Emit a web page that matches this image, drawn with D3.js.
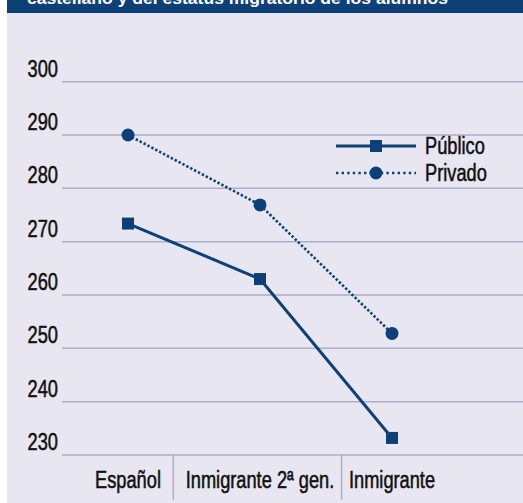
<!DOCTYPE html>
<html><head><meta charset="utf-8">
<script src="https://cdn.jsdelivr.net/npm/d3@7"></script>
<style>
html,body{margin:0;padding:0;background:#fff;}
svg{display:block;}
</style></head>
<body>
<svg id="c" width="523" height="503"></svg>
<script>
const categories = ["Español", "Inmigrante 2ª gen.", "Inmigrante"];
const publico = [273.4, 263.0, 233.2];
const privado = [290.0, 276.9, 252.8];
const yTicks = [230, 240, 250, 260, 270, 280, 290, 300];
const seriesNames = ["Público", "Privado"];
const titleText = "castellano y del estatus migratorio de los alumnos";

const W = 523, H = 503;
const navy = "#0c4077";
const bg = "#e8e7f1";
const grid = "#abadc9";
const font = "'Liberation Sans',Arial,sans-serif";
const FS = 24, SX = 0.76;

const svg = d3.select("#c");
svg.append("rect").attr("x", 7).attr("y", 0).attr("width", W - 7).attr("height", H).attr("fill", bg);
svg.append("rect").attr("x", 7).attr("y", 0).attr("width", W - 7).attr("height", 13).attr("fill", navy);
svg.append("text").attr("x", 27).attr("y", 3.5).attr("fill", "#fff")
  .attr("font-family", "'Liberation Sans',Arial,sans-serif").attr("font-weight", "bold")
  .attr("font-size", 16).attr("textLength", 421).attr("lengthAdjust", "spacingAndGlyphs")
  .text(titleText);

function narrow(sel, fx, fy) {
  return sel.attr("transform", (d, i) => `translate(${fx(d, i)},${fy(d, i)}) scale(${SX},1)`)
    .attr("font-family", font).attr("font-size", FS).attr("fill", "#111")
    .attr("stroke", "#111").attr("stroke-width", 0.55);
}

const x = d3.scalePoint().domain(categories).range([62, 458]).padding(0.5);
const y = d3.scaleLinear().domain([230, 300]).range([455, 81.7]);

// gridlines
svg.append("g").selectAll("line").data(yTicks).join("line")
  .attr("x1", 62).attr("x2", W).attr("y1", d => y(d)).attr("y2", d => y(d))
  .attr("stroke", grid).attr("stroke-width", 1.5);

// y tick labels
narrow(svg.append("g").selectAll("text").data(yTicks).join("text"), () => 58, d => y(d) - 5)
  .attr("text-anchor", "end").text(d => d);

// x labels
const xl = narrow(svg.append("g").selectAll("text").data(categories).join("text"), d => x(d), () => 488)
  .attr("text-anchor", "middle").text(d => d);
const boxes = xl.nodes().map(n => n.getBoundingClientRect());
const svgBox = svg.node().getBoundingClientRect();
const seps = [];
for (let i = 0; i < boxes.length - 1; i++) {
  seps.push((boxes[i].right + boxes[i + 1].left) / 2 - svgBox.left);
}
svg.append("g").selectAll("line").data(seps).join("line")
  .attr("x1", d => d).attr("x2", d => d).attr("y1", y(230)).attr("y2", 500)
  .attr("stroke", grid).attr("stroke-width", 1.5);

// lines
const line = d3.line().x((d, i) => x(categories[i])).y(d => y(d));
svg.append("path").attr("d", line(publico)).attr("fill", "none")
  .attr("stroke", navy).attr("stroke-width", 3);
svg.append("path").attr("d", line(privado)).attr("fill", "none")
  .attr("stroke", navy).attr("stroke-width", 2.6).attr("stroke-dasharray", "2.4,2");

svg.append("g").selectAll("rect").data(publico).join("rect")
  .attr("x", (d, i) => x(categories[i]) - 6).attr("y", d => y(d) - 6)
  .attr("width", 12).attr("height", 12).attr("fill", navy);
svg.append("g").selectAll("circle").data(privado).join("circle")
  .attr("cx", (d, i) => x(categories[i])).attr("cy", d => y(d)).attr("r", 6.5).attr("fill", navy);

// legend
const lg = svg.append("g");
const ly = [146, 173];
lg.append("line").attr("x1", 336).attr("x2", 416).attr("y1", ly[0]).attr("y2", ly[0])
  .attr("stroke", navy).attr("stroke-width", 3);
lg.append("rect").attr("x", 370).attr("y", ly[0] - 6).attr("width", 12).attr("height", 12).attr("fill", navy);
lg.append("line").attr("x1", 336).attr("x2", 416).attr("y1", ly[1]).attr("y2", ly[1])
  .attr("stroke", navy).attr("stroke-width", 2.6).attr("stroke-dasharray", "2.4,3.2");
lg.append("circle").attr("cx", 376).attr("cy", ly[1]).attr("r", 6.5).attr("fill", navy);
narrow(lg.selectAll("text").data(seriesNames).join("text"), () => 425, (d, i) => ly[i] + 8)
  .text(d => d);
</script>
</body></html>
